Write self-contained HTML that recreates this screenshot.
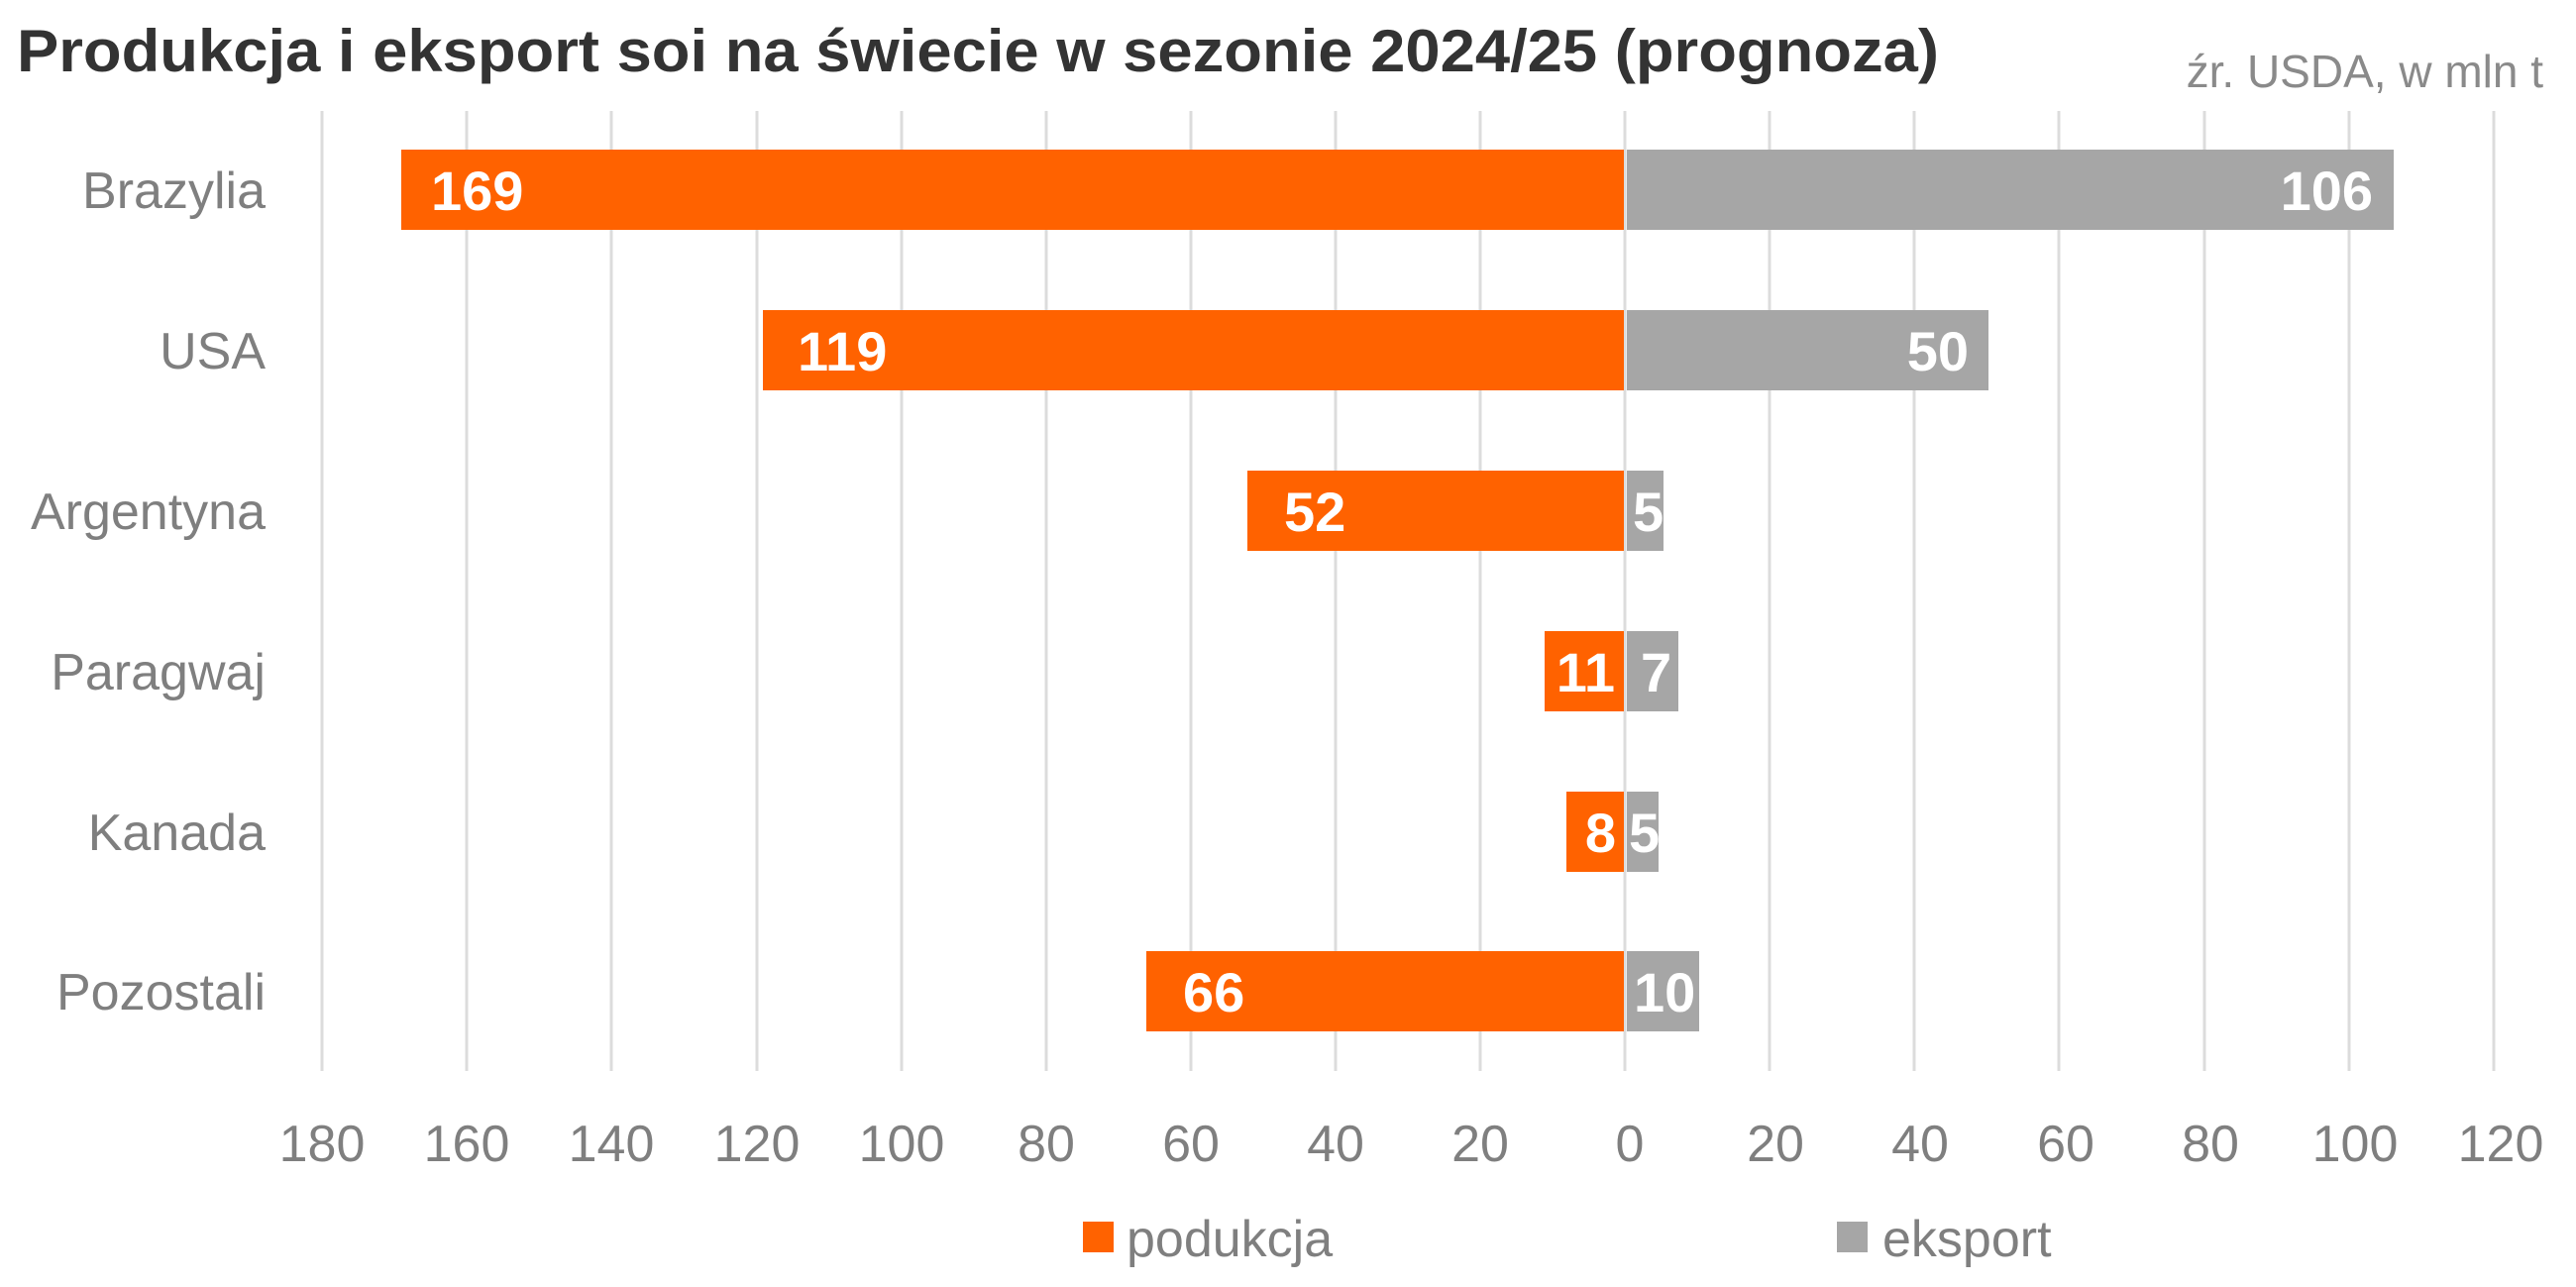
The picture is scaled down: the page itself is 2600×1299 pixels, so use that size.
<!DOCTYPE html>
<html><head><meta charset="utf-8"><style>
html,body{margin:0;padding:0;background:#fff;}
svg{display:block;}
text{font-family:"Liberation Sans",sans-serif;}
</style></head><body>
<svg width="2600" height="1299" viewBox="0 0 2600 1299" xmlns="http://www.w3.org/2000/svg">
<text x="17" y="72" font-size="60" font-weight="bold" fill="#333" textLength="1940" lengthAdjust="spacingAndGlyphs">Produkcja i eksport soi na świecie w sezonie 2024/25 (prognoza)</text>
<text x="2567" y="88" font-size="46" fill="#8a8a8a" text-anchor="end">źr. USDA, w mln t</text>
<g stroke="#dcdcdc" stroke-width="3">
<line x1="325" y1="112" x2="325" y2="1081"/><line x1="471" y1="112" x2="471" y2="1081"/>
<line x1="617" y1="112" x2="617" y2="1081"/><line x1="764" y1="112" x2="764" y2="1081"/>
<line x1="910" y1="112" x2="910" y2="1081"/><line x1="1056" y1="112" x2="1056" y2="1081"/>
<line x1="1202" y1="112" x2="1202" y2="1081"/><line x1="1348" y1="112" x2="1348" y2="1081"/>
<line x1="1494" y1="112" x2="1494" y2="1081"/><line x1="1640" y1="112" x2="1640" y2="1081"/>
<line x1="1786" y1="112" x2="1786" y2="1081"/><line x1="1932" y1="112" x2="1932" y2="1081"/>
<line x1="2078" y1="112" x2="2078" y2="1081"/><line x1="2225" y1="112" x2="2225" y2="1081"/>
<line x1="2371" y1="112" x2="2371" y2="1081"/><line x1="2517" y1="112" x2="2517" y2="1081"/>
</g>
<g fill="#FF6200">
<rect x="405" y="151" width="1234" height="81"/>
<rect x="770" y="313" width="869" height="81"/>
<rect x="1259" y="475" width="380" height="81"/>
<rect x="1559" y="637" width="80" height="81"/>
<rect x="1581" y="799" width="58" height="81"/>
<rect x="1157" y="960" width="482" height="81"/>
</g>
<g fill="#A6A6A6">
<rect x="1642" y="151" width="774" height="81"/>
<rect x="1642" y="313" width="365" height="81"/>
<rect x="1642" y="475" width="37" height="81"/>
<rect x="1642" y="637" width="52" height="81"/>
<rect x="1642" y="799" width="32" height="81"/>
<rect x="1642" y="960" width="73" height="81"/>
</g>
<g font-size="56" font-weight="bold" fill="#fff">
<text x="435" y="212">169</text>
<text x="805" y="374">119</text>
<text x="1296" y="536">52</text>
<text x="1630" y="698" text-anchor="end">11</text>
<text x="1631" y="860" text-anchor="end">8</text>
<text x="1194" y="1021">66</text>
<text x="2395" y="212" text-anchor="end">106</text>
<text x="1987" y="374" text-anchor="end">50</text>
<text x="1648" y="536">5</text>
<text x="1656" y="698">7</text>
<text x="1644" y="860">5</text>
<text x="1649" y="1021">10</text>
</g>
<g font-size="52" fill="#7f7f7f" text-anchor="end">
<text x="268" y="210">Brazylia</text>
<text x="268" y="372">USA</text>
<text x="268" y="534">Argentyna</text>
<text x="268" y="696">Paragwaj</text>
<text x="268" y="858">Kanada</text>
<text x="268" y="1019">Pozostali</text>
</g>
<g font-size="52" fill="#7f7f7f" text-anchor="middle">
<text x="325" y="1172">180</text><text x="471" y="1172">160</text><text x="617" y="1172">140</text>
<text x="764" y="1172">120</text><text x="910" y="1172">100</text><text x="1056" y="1172">80</text>
<text x="1202" y="1172">60</text><text x="1348" y="1172">40</text><text x="1494" y="1172">20</text>
<text x="1645" y="1172">0</text><text x="1792" y="1172">20</text><text x="1938" y="1172">40</text>
<text x="2085" y="1172">60</text><text x="2231" y="1172">80</text><text x="2377" y="1172">100</text>
<text x="2524" y="1172">120</text>
</g>
<rect x="1093" y="1233" width="31" height="31" fill="#FF6200"/>
<text x="1137" y="1268" font-size="52" fill="#7f7f7f">podukcja</text>
<rect x="1854" y="1233" width="31" height="31" fill="#A6A6A6"/>
<text x="1900" y="1268" font-size="52" fill="#7f7f7f">eksport</text>
</svg>
</body></html>
